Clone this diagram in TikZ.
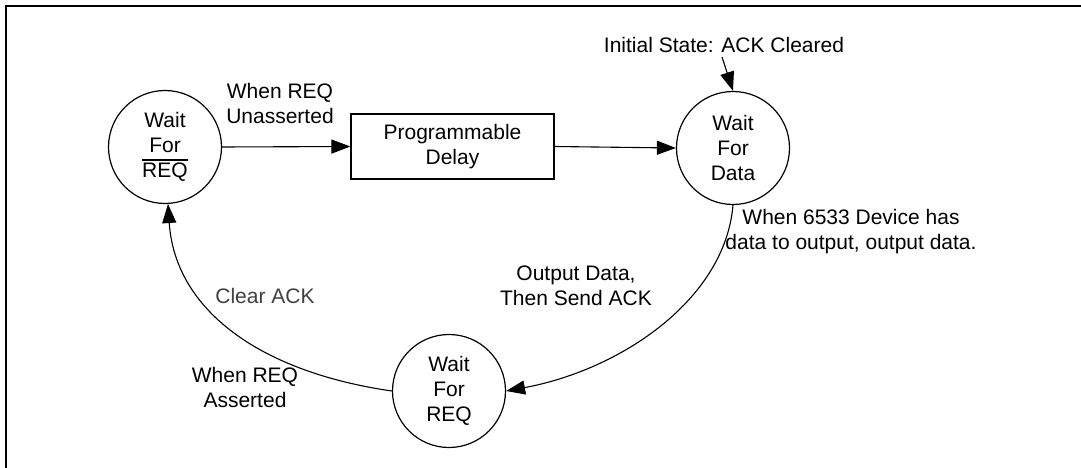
\documentclass[tikz,border=0pt]{standalone}
\usepackage{fontspec}
\setmainfont{Liberation Sans}
\usetikzlibrary{arrows.meta}
\newcommand\ovlbar[1]{\leavevmode\vbox{\hrule height 1.2pt\kern 2.4pt\hbox{#1}}}
\begin{document}
\begin{tikzpicture}[x=1pt,y=-1pt,
  every node/.style={font=\fontsize{21}{25}\selectfont, align=center, inner sep=0pt},
  state/.style={circle, draw, line width=1.2pt, minimum size=113pt},
  delaybox/.style={rectangle, draw, line width=1.2pt, minimum width=203pt, minimum height=65pt},
  conn/.style={line width=1.1pt, -{Triangle[length=19pt,width=14pt]}},
  frameline/.style={line width=2.2pt},
  graylbl/.style={text=black!75}]
\useasboundingbox (0,0) rectangle (1081,468);
% frame
\draw[frameline] (6,468) -- (6,6) -- (1081,6);
% nodes
\node[state] (w1) at (165,147) {Wait\\For\\\ovlbar{REQ}};
\node[delaybox] (delay) at (452.5,146.5) {Programmable\\Delay};
\node[state] (w2) at (733,148) {Wait\\For\\Data};
\node[state] (w3) at (449,391) {Wait\\For\\REQ};
% labels
\node (l1) at (280,103) {When REQ\\Unasserted};
\node (l2) at (724,45) {Initial State: ACK Cleared};
\node (l3) at (851,232) {When 6533 Device has\\data to output, output data.};
\node (l4) at (576,285.5) {Output Data,\\Then Send ACK};
\node[graylbl] (l5) at (265,296) {Clear ACK};
\node (l6) at (245,387.5) {When REQ\\Asserted};
% connectors
\coordinate (initstart) at (722,57);
\draw[conn] (w1.east) -- (delay.west);
\draw[conn] (delay.east) -- (w2.west);
\draw[conn] (initstart) -- (w2.north);
\draw[conn] (w2.south) .. controls (725,300) and (620,370) .. (w3.east);
\draw[conn] (w3.west) .. controls (260,372) and (175,310) .. (w1.-87);
\end{tikzpicture}
\end{document}
